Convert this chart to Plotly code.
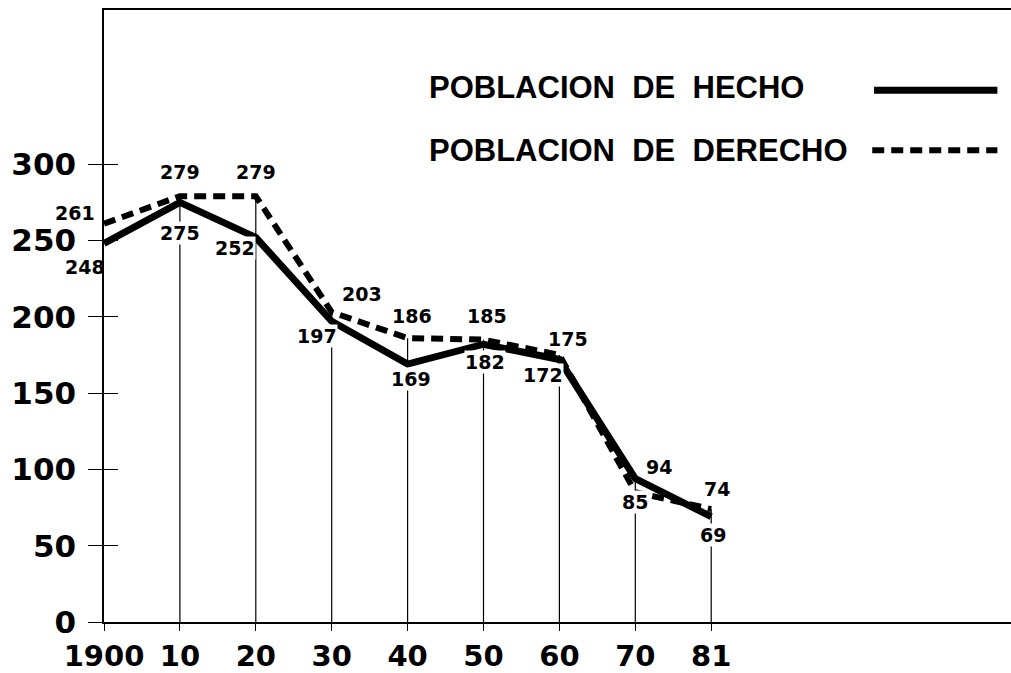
import plotly.graph_objects as go

# ---- data ----
years = ["1900", "10", "20", "30", "40", "50", "60", "70", "81"]
hecho = [248, 275, 252, 197, 169, 182, 172, 94, 69]
derecho = [261, 279, 279, 203, 186, 185, 175, 85, 74]
y_ticks = [0, 50, 100, 150, 200, 250, 300]

pos = list(range(len(years)))  # equally spaced census positions

# label offsets in pixels (xshift, yshift)
hecho_off = [(-19, -23), (0, -31), (-21, -11), (-15, -15), (3, -15), (1, -18), (-16, -15), (24, 12), (2, -18)]
derecho_off = [(-29, 11), (0, 24), (0, 24), (30, 18), (4, 22), (3, 24), (9, 16), (0, -10), (6, 20)]
hecho_bg = [False, True, True, True, True, True, True, False, True]
derecho_bg = [False, False, False, False, False, False, False, True, False]

NUM_FONT = "DejaVu Sans"
LEG_FONT = "Liberation Sans Narrow, Liberation Sans"

fig = go.Figure()

# vertical drop lines from the axis to the higher point of each year
dx, dy = [], []
for i in pos[1:]:
    top = max(hecho[i], derecho[i])
    dx += [i, i, None]
    dy += [0, top, None]
fig.add_trace(go.Scatter(x=dx, y=dy, mode="lines", line=dict(color="black", width=1.2),
                         hoverinfo="skip", showlegend=False))

fig.add_trace(go.Scatter(x=pos, y=derecho, mode="lines", name="POBLACION DE DERECHO",
                         line=dict(color="black", width=6, dash="12px,7px"), showlegend=False))
fig.add_trace(go.Scatter(x=pos, y=hecho, mode="lines", name="POBLACION DE HECHO",
                         line=dict(color="black", width=7), showlegend=False))

# overlay axis for inside tick marks
fig.add_trace(go.Scatter(x=pos, y=hecho, yaxis="y2", mode="lines",
                         line=dict(width=0), hoverinfo="skip", showlegend=False))

ann = []
for i in pos:
    for vals, offs, bgs in ((hecho, hecho_off, hecho_bg), (derecho, derecho_off, derecho_bg)):
        xs, ys = offs[i]
        ann.append(dict(x=i, y=vals[i], text=str(vals[i]), showarrow=False,
                        xshift=xs, yshift=ys, borderpad=0,
                        bgcolor="white" if bgs[i] else "rgba(0,0,0,0)",
                        font=dict(family=NUM_FONT, size=19, color="black", weight="bold")))

# legend text
ann.append(dict(x=0.356, y=0.873, xref="paper", yref="paper", xanchor="left", yanchor="middle",
                text="POBLACION  DE  HECHO", showarrow=False,
                font=dict(family=LEG_FONT, size=31, color="black", weight="bold")))
ann.append(dict(x=0.356, y=0.771, xref="paper", yref="paper", xanchor="left", yanchor="middle",
                text="POBLACION  DE  DERECHO", showarrow=False,
                font=dict(family=LEG_FONT, size=31, color="black", weight="bold")))

shapes = [
    dict(type="line", xref="paper", yref="paper", x0=0.849, x1=0.985, y0=0.869, y1=0.869,
         line=dict(color="black", width=7)),
    dict(type="line", xref="paper", yref="paper", x0=0.847, x1=0.985, y0=0.771, y1=0.771,
         line=dict(color="black", width=6, dash="12px,7px")),
]

fig.update_layout(
    width=1011, height=673,
    margin=dict(l=104, r=0, t=10, b=51),
    paper_bgcolor="white", plot_bgcolor="white",
    annotations=ann, shapes=shapes,
    showlegend=False,
    xaxis=dict(range=[0, 11.95], showgrid=False, zeroline=False, automargin=False,
               tickvals=pos, ticktext=years,
               showline=True, linecolor="black", linewidth=1.5, mirror=True,
               ticks="outside", ticklen=7, tickcolor="black", tickwidth=1,
               tickfont=dict(family=NUM_FONT, size=29, color="black", weight="bold"),
               ticklabelstandoff=0),
    yaxis=dict(range=[0, 401], showgrid=False, zeroline=False, automargin=False,
               showline=True, linecolor="black", linewidth=1.5,
               tickvals=y_ticks, ticks="outside", ticklen=14, tickcolor="black", tickwidth=1,
               tickfont=dict(family=NUM_FONT, size=31, color="black", weight="bold"),
               ticklabelstandoff=6),
    yaxis2=dict(range=[0, 401], overlaying="y", side="left", showgrid=False, zeroline=False,
                automargin=False,
                showline=False, tickvals=y_ticks, ticks="inside", ticklen=14,
                tickcolor="black", tickwidth=1, showticklabels=False),
)

fig.write_html("out.html", config={"displayModeBar": False},
               post_script="document.body.style.margin='0';document.body.style.overflow='hidden';")
